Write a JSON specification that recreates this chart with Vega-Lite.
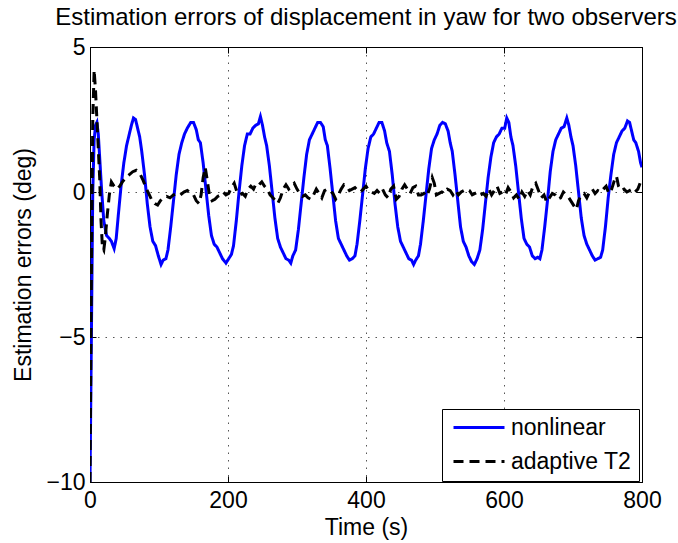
{
 "$schema": "https://vega.github.io/schema/vega-lite/v6.json",
 "width": 552, "height": 435,
 "autosize": {"type": "none"},
 "padding": {"left": 90, "top": 47, "right": 36, "bottom": 61},
 "background": "white",
 "title": {"text": "Estimation errors of displacement in yaw for two observers", "font": "Liberation Sans", "fontSize": 24, "fontWeight": "normal", "color": "black", "anchor": "middle", "frame": "group", "baseline": "alphabetic", "offset": -13},
 "config": {
  "font": "Liberation Sans",
  "view": {"stroke": "black", "strokeWidth": 1},
  "axis": {"domainColor": "black", "tickColor": "black", "labelColor": "black", "titleColor": "black", "labelFontSize": 23, "titleFontSize": 23, "titleFontWeight": "normal", "labelFont": "Liberation Sans", "titleFont": "Liberation Sans", "gridColor": "#555", "gridDash": [1.5, 6], "gridOpacity": 1, "gridWidth": 1, "tickSize": -6, "labelFlush": false},
  "legend": {"fillColor": "white", "strokeColor": "black", "padding": 7, "labelFontSize": 23, "labelFont": "Liberation Sans", "labelColor": "black", "symbolType": "M-0.7,0H4.4", "symbolSize": 400, "symbolStrokeWidth": 3, "labelOffset": 39, "rowPadding": 10, "labelLimit": 300}
 },
 "data": {"values": [
{"s":"nonlinear","t":0,"v":-10},{"s":"nonlinear","t":2,"v":-5},{"s":"nonlinear","t":4,"v":0},{"s":"nonlinear","t":6,"v":1.8},{"s":"nonlinear","t":8,"v":2.3},{"s":"nonlinear","t":10,"v":2.4},{"s":"nonlinear","t":12,"v":2.0},{"s":"nonlinear","t":14,"v":1.2},{"s":"nonlinear","t":17,"v":0.0},{"s":"nonlinear","t":20,"v":-1.0},{"s":"nonlinear","t":24,"v":-1.5},{"s":"nonlinear","t":28,"v":-1.6},{"s":"nonlinear","t":31,"v":-1.7},{"s":"nonlinear","t":35,"v":-1.95},{"s":"nonlinear","t":38,"v":-1.6},{"s":"nonlinear","t":41,"v":-0.8},{"s":"nonlinear","t":45,"v":0.2},{"s":"nonlinear","t":49,"v":1.0},{"s":"nonlinear","t":53,"v":1.6},{"s":"nonlinear","t":57,"v":2.0},{"s":"nonlinear","t":60,"v":2.3},{"s":"nonlinear","t":63,"v":2.55},{"s":"nonlinear","t":66,"v":2.5},{"s":"nonlinear","t":69,"v":2.2},{"s":"nonlinear","t":72,"v":1.9},{"s":"nonlinear","t":75,"v":1.4},{"s":"nonlinear","t":79,"v":0.6},{"s":"nonlinear","t":83,"v":-0.4},{"s":"nonlinear","t":87,"v":-1.2},{"s":"nonlinear","t":91,"v":-1.7},{"s":"nonlinear","t":95,"v":-1.85},{"s":"nonlinear","t":99,"v":-2.2},{"s":"nonlinear","t":103,"v":-2.5},{"s":"nonlinear","t":106,"v":-2.35},{"s":"nonlinear","t":110,"v":-2.3},{"s":"nonlinear","t":113,"v":-2.0},{"s":"nonlinear","t":117,"v":-1.2},{"s":"nonlinear","t":121,"v":-0.3},{"s":"nonlinear","t":125,"v":0.6},{"s":"nonlinear","t":129,"v":1.3},{"s":"nonlinear","t":133,"v":1.7},{"s":"nonlinear","t":137,"v":2.0},{"s":"nonlinear","t":141,"v":2.2},{"s":"nonlinear","t":146,"v":2.4},{"s":"nonlinear","t":150,"v":2.4},{"s":"nonlinear","t":154,"v":2.15},{"s":"nonlinear","t":157,"v":1.8},{"s":"nonlinear","t":160,"v":1.7},{"s":"nonlinear","t":164,"v":1.0},{"s":"nonlinear","t":168,"v":0.1},{"s":"nonlinear","t":172,"v":-0.8},{"s":"nonlinear","t":176,"v":-1.5},{"s":"nonlinear","t":180,"v":-1.8},{"s":"nonlinear","t":184,"v":-1.9},{"s":"nonlinear","t":188,"v":-2.1},{"s":"nonlinear","t":192,"v":-2.3},{"s":"nonlinear","t":197,"v":-2.45},{"s":"nonlinear","t":201,"v":-2.3},{"s":"nonlinear","t":205,"v":-2.15},{"s":"nonlinear","t":208,"v":-1.85},{"s":"nonlinear","t":212,"v":-1.0},{"s":"nonlinear","t":216,"v":0.0},{"s":"nonlinear","t":220,"v":0.9},{"s":"nonlinear","t":224,"v":1.6},{"s":"nonlinear","t":228,"v":2.0},{"s":"nonlinear","t":232,"v":2.0},{"s":"nonlinear","t":236,"v":2.2},{"s":"nonlinear","t":240,"v":2.3},{"s":"nonlinear","t":244,"v":2.35},{"s":"nonlinear","t":247,"v":2.6},{"s":"nonlinear","t":250,"v":2.3},{"s":"nonlinear","t":253,"v":1.9},{"s":"nonlinear","t":256,"v":1.6},{"s":"nonlinear","t":260,"v":0.9},{"s":"nonlinear","t":264,"v":0.0},{"s":"nonlinear","t":268,"v":-0.9},{"s":"nonlinear","t":272,"v":-1.6},{"s":"nonlinear","t":276,"v":-1.9},{"s":"nonlinear","t":280,"v":-2.1},{"s":"nonlinear","t":284,"v":-2.3},{"s":"nonlinear","t":288,"v":-2.35},{"s":"nonlinear","t":291,"v":-2.45},{"s":"nonlinear","t":294,"v":-2.2},{"s":"nonlinear","t":298,"v":-2.0},{"s":"nonlinear","t":302,"v":-1.3},{"s":"nonlinear","t":306,"v":-0.4},{"s":"nonlinear","t":310,"v":0.5},{"s":"nonlinear","t":314,"v":1.3},{"s":"nonlinear","t":318,"v":1.8},{"s":"nonlinear","t":322,"v":2.0},{"s":"nonlinear","t":326,"v":2.2},{"s":"nonlinear","t":330,"v":2.4},{"s":"nonlinear","t":334,"v":2.4},{"s":"nonlinear","t":338,"v":2.25},{"s":"nonlinear","t":341,"v":1.8},{"s":"nonlinear","t":344,"v":1.6},{"s":"nonlinear","t":348,"v":0.8},{"s":"nonlinear","t":352,"v":-0.1},{"s":"nonlinear","t":356,"v":-1.0},{"s":"nonlinear","t":360,"v":-1.6},{"s":"nonlinear","t":364,"v":-1.8},{"s":"nonlinear","t":368,"v":-2.0},{"s":"nonlinear","t":372,"v":-2.2},{"s":"nonlinear","t":376,"v":-2.35},{"s":"nonlinear","t":380,"v":-2.3},{"s":"nonlinear","t":384,"v":-2.2},{"s":"nonlinear","t":387,"v":-1.8},{"s":"nonlinear","t":391,"v":-1.0},{"s":"nonlinear","t":395,"v":-0.1},{"s":"nonlinear","t":399,"v":0.8},{"s":"nonlinear","t":403,"v":1.5},{"s":"nonlinear","t":407,"v":1.9},{"s":"nonlinear","t":411,"v":2.0},{"s":"nonlinear","t":415,"v":2.2},{"s":"nonlinear","t":419,"v":2.4},{"s":"nonlinear","t":423,"v":2.4},{"s":"nonlinear","t":427,"v":2.1},{"s":"nonlinear","t":430,"v":1.7},{"s":"nonlinear","t":434,"v":1.4},{"s":"nonlinear","t":438,"v":0.6},{"s":"nonlinear","t":442,"v":-0.4},{"s":"nonlinear","t":446,"v":-1.2},{"s":"nonlinear","t":450,"v":-1.7},{"s":"nonlinear","t":454,"v":-1.9},{"s":"nonlinear","t":458,"v":-2.1},{"s":"nonlinear","t":462,"v":-2.3},{"s":"nonlinear","t":466,"v":-2.35},{"s":"nonlinear","t":469,"v":-2.5},{"s":"nonlinear","t":472,"v":-2.35},{"s":"nonlinear","t":476,"v":-2.2},{"s":"nonlinear","t":479,"v":-1.8},{"s":"nonlinear","t":483,"v":-1.0},{"s":"nonlinear","t":487,"v":-0.1},{"s":"nonlinear","t":491,"v":0.8},{"s":"nonlinear","t":495,"v":1.5},{"s":"nonlinear","t":499,"v":1.8},{"s":"nonlinear","t":503,"v":2.0},{"s":"nonlinear","t":507,"v":2.3},{"s":"nonlinear","t":511,"v":2.4},{"s":"nonlinear","t":515,"v":2.35},{"s":"nonlinear","t":519,"v":2.1},{"s":"nonlinear","t":522,"v":1.7},{"s":"nonlinear","t":525,"v":1.4},{"s":"nonlinear","t":529,"v":0.6},{"s":"nonlinear","t":533,"v":-0.3},{"s":"nonlinear","t":537,"v":-1.2},{"s":"nonlinear","t":541,"v":-1.7},{"s":"nonlinear","t":545,"v":-1.9},{"s":"nonlinear","t":549,"v":-2.2},{"s":"nonlinear","t":553,"v":-2.4},{"s":"nonlinear","t":557,"v":-2.5},{"s":"nonlinear","t":561,"v":-2.3},{"s":"nonlinear","t":565,"v":-2.0},{"s":"nonlinear","t":569,"v":-1.3},{"s":"nonlinear","t":573,"v":-0.4},{"s":"nonlinear","t":577,"v":0.5},{"s":"nonlinear","t":581,"v":1.2},{"s":"nonlinear","t":585,"v":1.7},{"s":"nonlinear","t":589,"v":1.9},{"s":"nonlinear","t":593,"v":2.0},{"s":"nonlinear","t":597,"v":2.2},{"s":"nonlinear","t":601,"v":2.2},{"s":"nonlinear","t":604,"v":2.55},{"s":"nonlinear","t":607,"v":2.4},{"s":"nonlinear","t":610,"v":1.9},{"s":"nonlinear","t":613,"v":1.6},{"s":"nonlinear","t":617,"v":0.9},{"s":"nonlinear","t":621,"v":0.0},{"s":"nonlinear","t":625,"v":-0.9},{"s":"nonlinear","t":629,"v":-1.6},{"s":"nonlinear","t":633,"v":-1.8},{"s":"nonlinear","t":637,"v":-1.9},{"s":"nonlinear","t":641,"v":-2.2},{"s":"nonlinear","t":645,"v":-2.3},{"s":"nonlinear","t":649,"v":-2.25},{"s":"nonlinear","t":652,"v":-2.3},{"s":"nonlinear","t":655,"v":-2.0},{"s":"nonlinear","t":659,"v":-1.2},{"s":"nonlinear","t":663,"v":-0.3},{"s":"nonlinear","t":667,"v":0.7},{"s":"nonlinear","t":671,"v":1.4},{"s":"nonlinear","t":675,"v":1.8},{"s":"nonlinear","t":679,"v":2.0},{"s":"nonlinear","t":683,"v":2.2},{"s":"nonlinear","t":687,"v":2.25},{"s":"nonlinear","t":691,"v":2.55},{"s":"nonlinear","t":694,"v":2.3},{"s":"nonlinear","t":697,"v":1.9},{"s":"nonlinear","t":700,"v":1.6},{"s":"nonlinear","t":704,"v":0.9},{"s":"nonlinear","t":708,"v":0.0},{"s":"nonlinear","t":712,"v":-0.9},{"s":"nonlinear","t":716,"v":-1.5},{"s":"nonlinear","t":720,"v":-1.8},{"s":"nonlinear","t":724,"v":-2.0},{"s":"nonlinear","t":728,"v":-2.2},{"s":"nonlinear","t":732,"v":-2.35},{"s":"nonlinear","t":736,"v":-2.3},{"s":"nonlinear","t":740,"v":-2.25},{"s":"nonlinear","t":743,"v":-2.0},{"s":"nonlinear","t":747,"v":-1.2},{"s":"nonlinear","t":751,"v":-0.2},{"s":"nonlinear","t":755,"v":0.6},{"s":"nonlinear","t":759,"v":1.3},{"s":"nonlinear","t":763,"v":1.7},{"s":"nonlinear","t":767,"v":1.9},{"s":"nonlinear","t":771,"v":2.1},{"s":"nonlinear","t":775,"v":2.2},{"s":"nonlinear","t":779,"v":2.45},{"s":"nonlinear","t":782,"v":2.4},{"s":"nonlinear","t":785,"v":2.1},{"s":"nonlinear","t":788,"v":1.8},{"s":"nonlinear","t":791,"v":1.7},{"s":"nonlinear","t":795,"v":1.4},{"s":"nonlinear","t":798,"v":1.0},{"s":"nonlinear","t":800,"v":0.85},
{"s":"adaptive T2","t":0,"v":-10},{"s":"adaptive T2","t":2,"v":-3},{"s":"adaptive T2","t":4,"v":2.5},{"s":"adaptive T2","t":6,"v":4.2},{"s":"adaptive T2","t":8,"v":3.5},{"s":"adaptive T2","t":10,"v":2.5},{"s":"adaptive T2","t":12,"v":1.5},{"s":"adaptive T2","t":14,"v":0.5},{"s":"adaptive T2","t":16,"v":-1.0},{"s":"adaptive T2","t":18,"v":-1.9},{"s":"adaptive T2","t":20,"v":-2.0},{"s":"adaptive T2","t":22,"v":-1.6},{"s":"adaptive T2","t":25,"v":-0.8},{"s":"adaptive T2","t":28,"v":-0.1},{"s":"adaptive T2","t":31,"v":0.35},{"s":"adaptive T2","t":35,"v":0.2},{"s":"adaptive T2","t":39,"v":0.1},{"s":"adaptive T2","t":43,"v":0.2},{"s":"adaptive T2","t":47,"v":0.35},{"s":"adaptive T2","t":52,"v":0.5},{"s":"adaptive T2","t":57,"v":0.6},{"s":"adaptive T2","t":62,"v":0.7},{"s":"adaptive T2","t":67,"v":0.75},{"s":"adaptive T2","t":72,"v":0.65},{"s":"adaptive T2","t":77,"v":0.4},{"s":"adaptive T2","t":82,"v":0.1},{"s":"adaptive T2","t":86,"v":-0.1},{"s":"adaptive T2","t":90,"v":-0.3},{"s":"adaptive T2","t":94,"v":-0.4},{"s":"adaptive T2","t":98,"v":-0.45},{"s":"adaptive T2","t":102,"v":-0.3},{"s":"adaptive T2","t":106,"v":-0.2},{"s":"adaptive T2","t":111,"v":-0.15},{"s":"adaptive T2","t":116,"v":-0.2},{"s":"adaptive T2","t":121,"v":-0.1},{"s":"adaptive T2","t":126,"v":-0.05},{"s":"adaptive T2","t":131,"v":-0.1},{"s":"adaptive T2","t":136,"v":0.0},{"s":"adaptive T2","t":141,"v":0.05},{"s":"adaptive T2","t":146,"v":-0.05},{"s":"adaptive T2","t":150,"v":-0.1},{"s":"adaptive T2","t":154,"v":-0.3},{"s":"adaptive T2","t":158,"v":-0.4},{"s":"adaptive T2","t":161,"v":-0.1},{"s":"adaptive T2","t":164,"v":0.5},{"s":"adaptive T2","t":167,"v":0.85},{"s":"adaptive T2","t":170,"v":0.4},{"s":"adaptive T2","t":173,"v":-0.1},{"s":"adaptive T2","t":177,"v":-0.3},{"s":"adaptive T2","t":181,"v":-0.25},{"s":"adaptive T2","t":185,"v":-0.15},{"s":"adaptive T2","t":189,"v":-0.1},{"s":"adaptive T2","t":193,"v":0.0},{"s":"adaptive T2","t":197,"v":-0.1},{"s":"adaptive T2","t":201,"v":-0.05},{"s":"adaptive T2","t":205,"v":0.15},{"s":"adaptive T2","t":209,"v":0.3},{"s":"adaptive T2","t":213,"v":0.0},{"s":"adaptive T2","t":217,"v":-0.1},{"s":"adaptive T2","t":221,"v":-0.05},{"s":"adaptive T2","t":225,"v":-0.15},{"s":"adaptive T2","t":229,"v":0.1},{"s":"adaptive T2","t":233,"v":0.2},{"s":"adaptive T2","t":237,"v":0.1},{"s":"adaptive T2","t":241,"v":0.3},{"s":"adaptive T2","t":245,"v":0.25},{"s":"adaptive T2","t":249,"v":0.35},{"s":"adaptive T2","t":253,"v":0.2},{"s":"adaptive T2","t":257,"v":0.1},{"s":"adaptive T2","t":261,"v":-0.1},{"s":"adaptive T2","t":265,"v":-0.2},{"s":"adaptive T2","t":269,"v":-0.3},{"s":"adaptive T2","t":272,"v":-0.4},{"s":"adaptive T2","t":276,"v":-0.2},{"s":"adaptive T2","t":280,"v":0.1},{"s":"adaptive T2","t":284,"v":0.25},{"s":"adaptive T2","t":288,"v":0.1},{"s":"adaptive T2","t":292,"v":0.2},{"s":"adaptive T2","t":296,"v":0.3},{"s":"adaptive T2","t":300,"v":0.1},{"s":"adaptive T2","t":304,"v":-0.05},{"s":"adaptive T2","t":308,"v":-0.15},{"s":"adaptive T2","t":312,"v":-0.1},{"s":"adaptive T2","t":316,"v":-0.2},{"s":"adaptive T2","t":320,"v":-0.25},{"s":"adaptive T2","t":324,"v":-0.1},{"s":"adaptive T2","t":328,"v":0.1},{"s":"adaptive T2","t":332,"v":-0.05},{"s":"adaptive T2","t":336,"v":-0.2},{"s":"adaptive T2","t":340,"v":0.05},{"s":"adaptive T2","t":344,"v":0.1},{"s":"adaptive T2","t":348,"v":0.05},{"s":"adaptive T2","t":352,"v":-0.05},{"s":"adaptive T2","t":356,"v":-0.25},{"s":"adaptive T2","t":360,"v":-0.1},{"s":"adaptive T2","t":364,"v":0.1},{"s":"adaptive T2","t":368,"v":0.25},{"s":"adaptive T2","t":372,"v":0.2},{"s":"adaptive T2","t":376,"v":0.05},{"s":"adaptive T2","t":380,"v":0.1},{"s":"adaptive T2","t":384,"v":0.15},{"s":"adaptive T2","t":388,"v":0.05},{"s":"adaptive T2","t":392,"v":0.0},{"s":"adaptive T2","t":396,"v":0.1},{"s":"adaptive T2","t":400,"v":0.2},{"s":"adaptive T2","t":404,"v":0.05},{"s":"adaptive T2","t":408,"v":0.0},{"s":"adaptive T2","t":412,"v":-0.05},{"s":"adaptive T2","t":416,"v":0.05},{"s":"adaptive T2","t":420,"v":-0.05},{"s":"adaptive T2","t":424,"v":0.1},{"s":"adaptive T2","t":428,"v":-0.1},{"s":"adaptive T2","t":432,"v":-0.2},{"s":"adaptive T2","t":436,"v":0.1},{"s":"adaptive T2","t":440,"v":0.2},{"s":"adaptive T2","t":444,"v":-0.25},{"s":"adaptive T2","t":448,"v":-0.15},{"s":"adaptive T2","t":452,"v":0.1},{"s":"adaptive T2","t":456,"v":0.25},{"s":"adaptive T2","t":460,"v":0.1},{"s":"adaptive T2","t":464,"v":-0.05},{"s":"adaptive T2","t":468,"v":0.15},{"s":"adaptive T2","t":472,"v":0.2},{"s":"adaptive T2","t":476,"v":-0.1},{"s":"adaptive T2","t":480,"v":-0.1},{"s":"adaptive T2","t":484,"v":-0.05},{"s":"adaptive T2","t":488,"v":-0.15},{"s":"adaptive T2","t":492,"v":0.1},{"s":"adaptive T2","t":496,"v":0.5},{"s":"adaptive T2","t":499,"v":0.3},{"s":"adaptive T2","t":502,"v":-0.1},{"s":"adaptive T2","t":506,"v":-0.05},{"s":"adaptive T2","t":510,"v":0.0},{"s":"adaptive T2","t":514,"v":-0.05},{"s":"adaptive T2","t":518,"v":0.1},{"s":"adaptive T2","t":522,"v":0.05},{"s":"adaptive T2","t":526,"v":-0.1},{"s":"adaptive T2","t":530,"v":0.05},{"s":"adaptive T2","t":534,"v":-0.1},{"s":"adaptive T2","t":538,"v":0.0},{"s":"adaptive T2","t":542,"v":0.05},{"s":"adaptive T2","t":546,"v":0.1},{"s":"adaptive T2","t":550,"v":0.05},{"s":"adaptive T2","t":554,"v":-0.1},{"s":"adaptive T2","t":558,"v":-0.05},{"s":"adaptive T2","t":562,"v":0.0},{"s":"adaptive T2","t":566,"v":-0.1},{"s":"adaptive T2","t":570,"v":-0.05},{"s":"adaptive T2","t":574,"v":-0.15},{"s":"adaptive T2","t":578,"v":0.1},{"s":"adaptive T2","t":582,"v":-0.1},{"s":"adaptive T2","t":586,"v":0.05},{"s":"adaptive T2","t":590,"v":0.2},{"s":"adaptive T2","t":594,"v":-0.05},{"s":"adaptive T2","t":598,"v":0.0},{"s":"adaptive T2","t":602,"v":-0.1},{"s":"adaptive T2","t":606,"v":0.15},{"s":"adaptive T2","t":610,"v":0.0},{"s":"adaptive T2","t":614,"v":-0.2},{"s":"adaptive T2","t":618,"v":-0.1},{"s":"adaptive T2","t":622,"v":-0.25},{"s":"adaptive T2","t":626,"v":0.0},{"s":"adaptive T2","t":630,"v":-0.15},{"s":"adaptive T2","t":634,"v":0.05},{"s":"adaptive T2","t":638,"v":-0.1},{"s":"adaptive T2","t":642,"v":0.2},{"s":"adaptive T2","t":646,"v":0.3},{"s":"adaptive T2","t":650,"v":0.05},{"s":"adaptive T2","t":654,"v":-0.2},{"s":"adaptive T2","t":658,"v":-0.1},{"s":"adaptive T2","t":662,"v":-0.35},{"s":"adaptive T2","t":666,"v":-0.2},{"s":"adaptive T2","t":670,"v":-0.05},{"s":"adaptive T2","t":674,"v":-0.1},{"s":"adaptive T2","t":678,"v":-0.25},{"s":"adaptive T2","t":682,"v":-0.2},{"s":"adaptive T2","t":686,"v":0.0},{"s":"adaptive T2","t":690,"v":-0.1},{"s":"adaptive T2","t":694,"v":-0.2},{"s":"adaptive T2","t":698,"v":-0.35},{"s":"adaptive T2","t":702,"v":-0.5},{"s":"adaptive T2","t":705,"v":-0.6},{"s":"adaptive T2","t":708,"v":-0.3},{"s":"adaptive T2","t":712,"v":-0.1},{"s":"adaptive T2","t":716,"v":-0.05},{"s":"adaptive T2","t":720,"v":-0.2},{"s":"adaptive T2","t":724,"v":0.0},{"s":"adaptive T2","t":728,"v":0.1},{"s":"adaptive T2","t":732,"v":-0.05},{"s":"adaptive T2","t":736,"v":0.05},{"s":"adaptive T2","t":740,"v":0.0},{"s":"adaptive T2","t":744,"v":0.1},{"s":"adaptive T2","t":748,"v":0.2},{"s":"adaptive T2","t":752,"v":-0.05},{"s":"adaptive T2","t":756,"v":0.1},{"s":"adaptive T2","t":760,"v":0.4},{"s":"adaptive T2","t":763,"v":0.55},{"s":"adaptive T2","t":766,"v":0.2},{"s":"adaptive T2","t":770,"v":0.05},{"s":"adaptive T2","t":774,"v":0.1},{"s":"adaptive T2","t":778,"v":0.0},{"s":"adaptive T2","t":782,"v":0.05},{"s":"adaptive T2","t":786,"v":0.1},{"s":"adaptive T2","t":790,"v":0.0},{"s":"adaptive T2","t":794,"v":0.1},{"s":"adaptive T2","t":798,"v":0.35},{"s":"adaptive T2","t":800,"v":0.4}
 ]},
 "layer": [
  {
   "mark": {"type": "line", "strokeWidth": 3, "clip": true},
   "encoding": {
    "x": {"field": "t", "type": "quantitative", "scale": {"domain": [0, 800], "nice": false}, "axis": {"orient": "bottom", "values": [0, 200, 400, 600, 800], "title": "Time (s)", "labelPadding": 13, "titlePadding": 4, "grid": true}},
    "y": {"field": "v", "type": "quantitative", "scale": {"domain": [-10, 5], "nice": false}, "axis": {"orient": "left", "values": [-10, -5, 0, 5], "title": "Estimation errors (deg)", "labelPadding": 11, "titlePadding": 10, "grid": true}},
    "color": {"field": "s", "type": "nominal", "scale": {"domain": ["nonlinear", "adaptive T2"], "range": ["#0000ff", "#000000"]}, "legend": {"title": null, "orient": "none", "legendX": 352, "legendY": 362}},
    "strokeDash": {"field": "s", "type": "nominal", "scale": {"domain": ["nonlinear", "adaptive T2"], "range": [[1, 0], [10, 6]]}, "legend": {"title": null, "orient": "none", "legendX": 352, "legendY": 362}}
   }
  },
  {
   "mark": {"type": "line", "opacity": 0},
   "encoding": {
    "x": {"field": "t", "type": "quantitative", "axis": {"orient": "top", "values": [0, 200, 400, 600, 800], "labels": false, "title": null, "grid": false}},
    "y": {"field": "v", "type": "quantitative", "axis": {"orient": "right", "values": [-10, -5, 0, 5], "labels": false, "title": null, "grid": false}},
    "detail": {"field": "s", "type": "nominal"}
   }
  }
 ],
 "resolve": {"axis": {"x": "independent", "y": "independent"}}
}
